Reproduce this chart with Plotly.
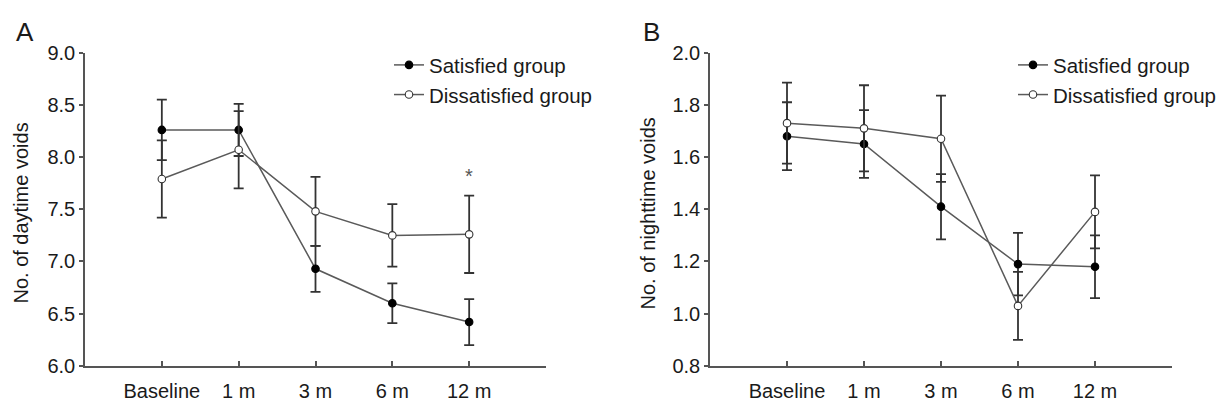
import plotly.graph_objects as go

# ---------------- data ----------------
timepoints = ["Baseline", "1 m", "3 m", "6 m", "12 m"]

day_satisfied = [8.26, 8.26, 6.93, 6.60, 6.42]
day_satisfied_se = [0.29, 0.25, 0.22, 0.19, 0.22]
day_dissatisfied = [7.79, 8.07, 7.48, 7.25, 7.26]
day_dissatisfied_se = [0.37, 0.37, 0.33, 0.30, 0.37]

night_satisfied = [1.68, 1.65, 1.41, 1.19, 1.18]
night_satisfied_se = [0.13, 0.13, 0.125, 0.12, 0.12]
night_dissatisfied = [1.73, 1.71, 1.67, 1.03, 1.39]
night_dissatisfied_se = [0.155, 0.165, 0.165, 0.13, 0.14]

day_ticks = [6.0, 6.5, 7.0, 7.5, 8.0, 8.5, 9.0]
night_ticks = [0.8, 1.0, 1.2, 1.4, 1.6, 1.8, 2.0]

# ---------------- style ----------------
FONT = "Liberation Sans, Arial, sans-serif"
W, H = 1231, 411
LINE_C = "#5a5a5a"
ERR_C = "#333333"
AXIS_C = "#555555"
TXT_C = "#1a1a1a"

xs = list(range(len(timepoints)))

fig = go.Figure()


def add_series(x, y, se, name, filled, xa, ya, legend):
    fig.add_trace(go.Scatter(
        x=x, y=y, name=name, mode="lines+markers",
        xaxis=xa, yaxis=ya, legend=legend,
        line=dict(color=LINE_C, width=1.5),
        marker=dict(symbol="circle", size=7.5,
                    color="#000000" if filled else "#ffffff",
                    line=dict(color="#000000" if filled else "#333333", width=1.1)),
        error_y=dict(type="data", array=se, visible=True,
                     color=ERR_C, thickness=1.8, width=5),
    ))


add_series(xs, day_satisfied, day_satisfied_se, "Satisfied group", True, "x", "y", "legend")
add_series(xs, day_dissatisfied, day_dissatisfied_se, "Dissatisfied group", False, "x", "y", "legend")
add_series(xs, night_satisfied, night_satisfied_se, "Satisfied group", True, "x2", "y2", "legend2")
add_series(xs, night_dissatisfied, night_dissatisfied_se, "Dissatisfied group", False, "x2", "y2", "legend2")

xdomA = [85 / W, 546 / W]
xdomB = [710 / W, 1172 / W]
ydom = [(H - 375) / H, (H - 44) / H]

xaxis_common = dict(
    range=[-1, 5], tickmode="array",
    tickvals=xs + [5], ticktext=timepoints + [""],
    ticks="inside", ticklen=5, tickwidth=1.5, tickcolor=AXIS_C,
    showline=True, linecolor=AXIS_C, linewidth=1.5,
    showgrid=False, zeroline=False,
    tickfont=dict(family=FONT, size=20, color=TXT_C),
    ticklabelstandoff=6,
)
yaxis_common = dict(
    ticks="outside", ticklen=4, tickwidth=1.5, tickcolor=AXIS_C,
    showline=True, linecolor=AXIS_C, linewidth=1.5,
    showgrid=False, zeroline=False, tickformat=".1f",
    tickfont=dict(family=FONT, size=20, color=TXT_C),
)

LEG_TOP = 36
fig.update_layout(
    width=W, height=H,
    margin=dict(l=0, r=0, t=0, b=0),
    paper_bgcolor="white", plot_bgcolor="white",
    font=dict(family=FONT, size=20, color=TXT_C),
    xaxis=dict(domain=xdomA, anchor="y", **xaxis_common),
    yaxis=dict(domain=ydom, anchor="x", range=[6.0, 9.0],
               tickmode="array", tickvals=day_ticks, **yaxis_common),
    xaxis2=dict(domain=xdomB, anchor="y2", **xaxis_common),
    yaxis2=dict(domain=ydom, anchor="x2", range=[0.8, 2.0],
                tickmode="array", tickvals=night_ticks, **yaxis_common),
    legend=dict(x=389 / W, y=(H - LEG_TOP) / H, xanchor="left", yanchor="top",
                bgcolor="rgba(0,0,0,0)", borderwidth=0,
                font=dict(family=FONT, size=20.5, color=TXT_C), itemwidth=30),
    legend2=dict(x=1013 / W, y=(H - LEG_TOP) / H, xanchor="left", yanchor="top",
                 bgcolor="rgba(0,0,0,0)", borderwidth=0,
                 font=dict(family=FONT, size=20.5, color=TXT_C), itemwidth=30),
    showlegend=True,
)

annotations = [
    dict(text="A", x=25 / W, y=(H - 22) / H, xref="paper", yref="paper",
         showarrow=False, font=dict(family=FONT, size=26, color=TXT_C),
         xanchor="center", yanchor="middle"),
    dict(text="B", x=652 / W, y=(H - 22) / H, xref="paper", yref="paper",
         showarrow=False, font=dict(family=FONT, size=26, color=TXT_C),
         xanchor="center", yanchor="middle"),
    dict(text="No. of daytime voids", x=21 / W, y=(H - 214) / H,
         xref="paper", yref="paper", showarrow=False, textangle=-90,
         font=dict(family=FONT, size=20, color=TXT_C),
         xanchor="center", yanchor="middle"),
    dict(text="No. of nighttime voids", x=648 / W, y=(H - 214) / H,
         xref="paper", yref="paper", showarrow=False, textangle=-90,
         font=dict(family=FONT, size=20, color=TXT_C),
         xanchor="center", yanchor="middle"),
    dict(text="*", x=xs[4], y=7.82, xref="x", yref="y", showarrow=False,
         font=dict(family=FONT, size=20, color="#555555"),
         xanchor="center", yanchor="middle"),
]
fig.update_layout(annotations=annotations)

fig.write_html(
    "out.html",
    config={"displayModeBar": False},
    post_script="document.body.style.margin='0';document.body.style.padding='0';",
)
